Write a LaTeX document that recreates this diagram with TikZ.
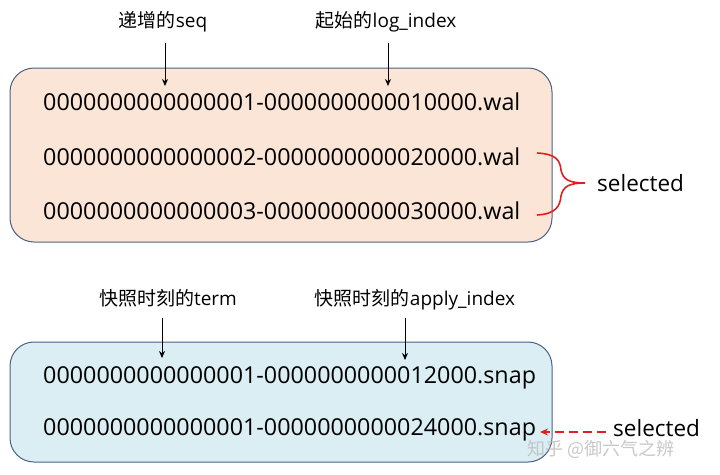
\documentclass[tikz,border=0pt]{standalone}
\usepackage{fontspec}
\setmainfont{Open Sans}
\newfontfamily\cjk{Noto Sans CJK SC}
\usetikzlibrary{arrows.meta}
\definecolor{peach}{HTML}{FBE5D6}
\definecolor{lblue}{HTML}{DAEEF3}
\definecolor{boxedge}{HTML}{4A6283}
\definecolor{bracered}{HTML}{E02020}
\begin{document}
\begin{tikzpicture}[x=1pt,y=-1pt,
  fbox/.style={draw=boxedge, line width=1pt, rounded corners=24pt},
  fname/.style={font=\fontsize{23.3}{26}\selectfont, inner sep=0pt, anchor=west},
  lbl/.style={font=\fontsize{19}{21}\selectfont, inner sep=0pt},
  pointer/.style={-{Stealth[length=7pt,width=6pt]}, line width=0.9pt, black},
  sel/.style={font=\fontsize{22.5}{25}\selectfont, inner sep=0pt, anchor=west}]
\useasboundingbox (0,0) rectangle (720,474);
\fill[white] (0,0) rectangle (720,474);
% boxes
\draw[fbox, fill=peach] (10,68) rectangle (552,242);
\draw[fbox, fill=lblue] (10,342) rectangle (552,462);
% file names
\node[fname] (w1) at (43,102) {0000000000000001-0000000000010000.wal};
\node[fname] (w2) at (43,157) {0000000000000002-0000000000020000.wal};
\node[fname] (w3) at (43,211) {0000000000000003-0000000000030000.wal};
\node[fname] (s1) at (43,378) {0000000000000001-0000000000012000.snap};
\node[fname] (s2) at (43,430) {0000000000000001-0000000000024000.snap};
% labels
\node[lbl] (l1) at (163,22) {{\cjk 递增的}seq};
\node[lbl] (l2) at (386,22) {{\cjk 起始的}log\_index};
\node[lbl] (l3) at (168,298) {{\cjk 快照时刻的}term};
\node[lbl] (l4) at (415,300) {{\cjk 快照时刻的}apply\_index};
\coordinate (a1) at (165,86);
\coordinate (a2) at (388,86);
\coordinate (a3) at (162,358);
\coordinate (a4) at (405,360);
\draw[pointer] (165,43) -- (a1);
\draw[pointer] (388,43) -- (a2);
\draw[pointer] (162,318) -- (a3);
\draw[pointer] (405,318) -- (a4);
% brace
\draw[bracered, line width=1.6pt] (537,153) .. controls (556,154) and (560,160) .. (561,170)
  .. controls (563,180) and (570,183) .. (585,183)
  .. controls (570,183) and (563,186) .. (561,196)
  .. controls (560,206) and (556,214) .. (537,215);
\node[sel] (sel1) at (597,183) {selected};
\node[sel] (sel2) at (613,428) {selected};
\coordinate (tip2) at (540,432);
\draw[bracered, line width=1.3pt, dash pattern=on 9pt off 5pt, -{Stealth[length=8pt,width=7pt]}] (606,432) -- (tip2);
% watermark
\node[font=\cjk\fontsize{18}{20}\selectfont, text=gray!50, opacity=0.85, inner sep=0pt, anchor=west] (wm) at (527,449) {知乎 @御六气之辨};
\end{tikzpicture}
\end{document}
